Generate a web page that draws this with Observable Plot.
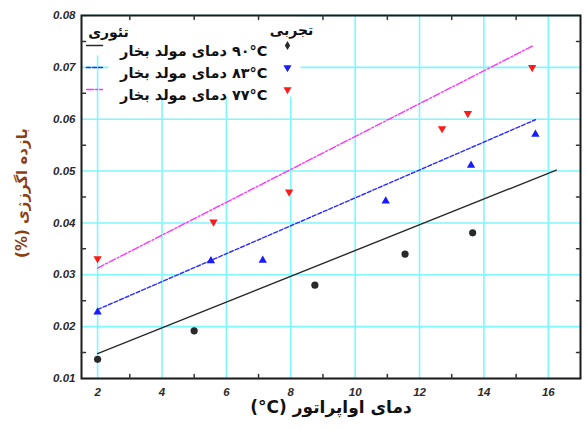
<!DOCTYPE html>
<html>
<head>
<meta charset="utf-8">
<script src="https://cdn.jsdelivr.net/npm/d3@7"></script>
<script src="https://cdn.jsdelivr.net/npm/@observablehq/plot@0.6"></script>
<style>
  body { margin: 0; background: #fff; }
  #chart { width: 587px; height: 430px; }
</style>
</head>
<body>
<div id="chart"></div>
<script>
// ---- tick values ----
const xTicks = [2, 4, 6, 8, 10, 12, 14, 16];
const yTicks = [0.01, 0.02, 0.03, 0.04, 0.05, 0.06, 0.07, 0.08];
const xMinor = [3, 5, 7, 9, 11, 13, 15];
const yMinor = [0.015, 0.025, 0.035, 0.045, 0.055, 0.065, 0.075];

// ---- experimental points (evaporator temp °C, exergy efficiency) ----
const expT90 = [2, 5, 8.75, 11.55, 13.65];
const expE90 = [0.0137, 0.0192, 0.0280, 0.0340, 0.0381];
const expT83 = [2, 5.52, 7.13, 10.95, 13.6, 15.6];
const expE83 = [0.0228, 0.0327, 0.0328, 0.0442, 0.0511, 0.0571];
const expT77 = [2, 5.6, 7.95, 12.7, 13.5, 15.5];
const expE77 = [0.0331, 0.0402, 0.0460, 0.0582, 0.0611, 0.0700];

// ---- theoretical lines ----
const thT90 = [2, 16.25];
const thE90 = [0.0148, 0.0502];
const thT83 = [2, 15.6];
const thE83 = [0.0233, 0.0599];
const thT77 = [2, 15.5];
const thE77 = [0.0313, 0.0741];

// ---- texts ----
const seriesNames = ["۹۰°C", "۸۳°C", "۷۷°C"];
const legendLabel = "دمای مولد بخار";
const theoryTitle = "تئوری";
const expTitle = "تجربی";
const xTitle = "دمای اواپراتور (°C)";
const yTitle = "بازده اگرزژی (%)";

const RLI = "\u2067", LRI = "\u2066", PDI = "\u2069";

const toRows = (ts, es) => ts.map((t, i) => ({t, e: es[i]}));

const series = [
  {exp: toRows(expT90, expE90), th: toRows(thT90, thE90), color: "#2a2a2a", dash: null,
   symbol: "circle", rotate: 0, legendSymbol: "diamond", legendRotate: 0, legendR: 2.8},
  {exp: toRows(expT83, expE83), th: toRows(thT83, thE83), color: "#2b2bff", mcolor: "#1a1aff", dash: "4,2",
   symbol: "triangle", rotate: 0, legendSymbol: "triangle", legendRotate: 180, legendR: 3},
  {exp: toRows(expT77, expE77), th: toRows(thT77, thE77), color: "#ff33ff", mcolor: "#ff1a1a", dash: "7,2,2,2",
   symbol: "triangle", rotate: 180, legendSymbol: "triangle", legendRotate: 180, legendR: 3}
];

const lineShape = {draw(context, l) { context.moveTo(0, 0); context.lineTo(0, -l); }};
const tickColor = "#333";
const gridColor = "#80f6ff";
const arabicFont = "DejaVu Sans";

const marks = [
  Plot.gridX(xTicks, {stroke: gridColor, strokeOpacity: 1, strokeWidth: 1.6}),
  Plot.gridY(yTicks, {stroke: gridColor, strokeOpacity: 1, strokeWidth: 1.6}),
  // legend white backgrounds
  Plot.frame({fill: "white", stroke: null, insetLeft: 27, insetRight: 280, insetBottom: 282}),
  Plot.frame({fill: "white", stroke: null, insetLeft: 5, insetRight: 280, insetBottom: 323}),
  Plot.axisX(xTicks, {tickSize: 0, tickPadding: 9, label: null, fontWeight: "bold", fontStyle: "italic", fill: "#2a2a2a"}),
  Plot.axisY(yTicks, {tickSize: 0, tickPadding: 6, label: null, tickFormat: d3.format(".2f"), fontWeight: "bold", fontStyle: "italic", fill: "#2a2a2a"}),
];

series.forEach(s => {
  marks.push(Plot.line(s.th, {x: "t", y: "e", stroke: s.color, strokeWidth: 1.4, strokeDasharray: s.dash}));
});
series.forEach(s => {
  marks.push(Plot.dot(s.exp, {x: "t", y: "e", symbol: s.symbol, rotate: s.rotate, r: s.symbol === "circle" ? 3.6 : 3.1,
    fill: s.mcolor || s.color, stroke: "none"}));
});

marks.push(
  Plot.frame({stroke: "#1a1a1a", strokeWidth: 2}),
  Plot.vector(xMinor, {x: d => d, frameAnchor: "bottom", length: 4, rotate: 0, anchor: "start", shape: lineShape, stroke: tickColor}),
  Plot.vector(xMinor, {x: d => d, frameAnchor: "top", length: 4, rotate: 180, anchor: "start", shape: lineShape, stroke: tickColor}),
  Plot.vector(yMinor, {y: d => d, frameAnchor: "left", length: 4, rotate: 90, anchor: "start", shape: lineShape, stroke: tickColor}),
  Plot.vector(yMinor, {y: d => d, frameAnchor: "right", length: 4, rotate: -90, anchor: "start", shape: lineShape, stroke: tickColor}),
  // legend headers
  Plot.text([theoryTitle], {text: d => d, frameAnchor: "top-left", textAnchor: "middle", dx: 27, dy: 12,
    fontFamily: arabicFont, fontSize: 14, fontWeight: "bold", fill: "#111"}),
  Plot.text([expTitle], {text: d => d, frameAnchor: "top-left", textAnchor: "middle", dx: 210, dy: 10,
    fontFamily: arabicFont, fontSize: 14, fontWeight: "bold", fill: "#111"}),
  // axis titles
  Plot.text([xTitle], {text: d => RLI + d.replace("(°C)", LRI + "(°C)" + PDI) + PDI, frameAnchor: "bottom", dy: 34,
    fontFamily: arabicFont, fontSize: 17, fontWeight: "bold", fill: "#111"}),
  Plot.text([yTitle], {text: d => RLI + d + PDI, frameAnchor: "left", textAnchor: "middle", dx: -59, dy: -4, rotate: -90,
    fontFamily: arabicFont, fontSize: 15, fontWeight: "bold", fill: "#8b3f12"})
);

series.forEach((s, i) => {
  const dy = 30 + i * 22;
  marks.push(
    Plot.vector([0], {frameAnchor: "top-left", dx: 5, dy, length: 16, rotate: 90, anchor: "start", shape: lineShape,
      stroke: s.color, strokeWidth: 1.5, strokeDasharray: s.dash}),
    Plot.text([seriesNames[i]], {text: d => RLI + LRI + d + PDI + " " + legendLabel + PDI, frameAnchor: "top-left", dx: 186, dy,
      textAnchor: "end", fontFamily: arabicFont, fontSize: 14.5, fontWeight: "bold", fill: "#111"}),
    Plot.dot([0], {frameAnchor: "top-left", dx: 206, dy, symbol: s.legendSymbol, rotate: s.legendRotate, r: s.legendR,
      fill: s.mcolor || s.color, stroke: "none"})
  );
});

const chart = Plot.plot({
  width: 587,
  height: 430,
  marginLeft: 81,
  marginRight: 7,
  marginTop: 15,
  marginBottom: 52,
  style: {fontFamily: "Liberation Sans, Arial, sans-serif", fontSize: "11.5px", background: "white"},
  x: {domain: [1.5, 17], axis: null},
  y: {domain: [0.01, 0.08], axis: null},
  marks
});
document.getElementById("chart").appendChild(chart);
</script>
</body>
</html>
